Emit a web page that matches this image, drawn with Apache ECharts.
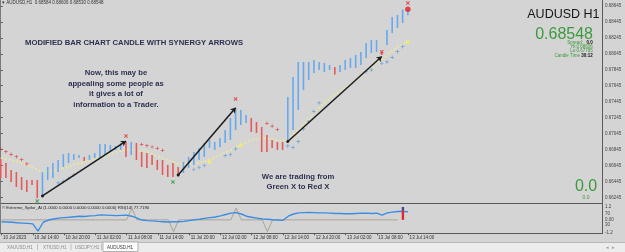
<!DOCTYPE html>
<html><head><meta charset="utf-8">
<script src="https://cdn.jsdelivr.net/npm/echarts@6/dist/echarts.min.js"></script>
<style>html,body{margin:0;padding:0;background:#d4d4d4;overflow:hidden}#c{width:625px;height:252px;}</style>
</head><body><div id="c"></div>
<script>
// ---------------- DATA ----------------
const symbolName = 'AUDUSD,H1';
const ohlc = ['0.68584', '0.68606', '0.68530', '0.68548'];
const lastPrice = 0.68548;
const timeIdx = [0, 6, 12, 18, 24, 30, 36, 42, 48, 54, 60, 66, 72, 78];
const timeLabels = ['10 Jul 2023', '10 Jul 14:00', '10 Jul 20:00', '11 Jul 02:00', '11 Jul 08:00', '11 Jul 14:00', '11 Jul 20:00', '12 Jul 02:00', '12 Jul 08:00', '12 Jul 14:00', '12 Jul 20:00', '13 Jul 02:00', '13 Jul 08:00', '13 Jul 14:00'];
const priceTicks = [0.66245, 0.66445, 0.66645, 0.66845, 0.67045, 0.67245, 0.67445, 0.67645, 0.67845, 0.68045, 0.68245, 0.68445, 0.68645];
const rsiTicks = [30, 70];
const spikeTicks = [-1.2, 0, 1.2];
const spikeTickLabels = ['-1.2', '0.00', '1.2'];

const barHigh = [0.66727,0.66676,0.66589,0.66563,0.66501,0.66463,0.66463,0.66463,0.66563,0.66626,
 0.66676,0.66714,0.66789,0.66802,0.66789,0.66777,0.66752,0.66777,0.66802,0.66915,
 0.66915,0.66902,0.66890,0.66927,0.66940,0.66940,0.66927,0.66814,0.66802,0.66777,
 0.66714,0.66714,0.66651,0.66676,0.66626,0.66689,0.66752,0.66814,0.66864,0.66927,
 0.66965,0.66940,0.66990,0.67090,0.67241,0.67366,0.67341,0.67278,0.67241,0.67190,
 0.67128,0.67027,0.66965,0.66940,0.66940,0.67504,0.67755,0.67943,0.67943,0.67943,
 0.67968,0.67943,0.67930,0.67905,0.67880,0.67905,0.67968,0.67993,0.68031,0.68068,
 0.68181,0.68219,0.68219,0.68068,0.68344,0.68507,0.68532,0.68600,0.68606];
const barLow = [0.66488,0.66488,0.66438,0.66375,0.66338,0.66313,0.66401,0.66238,0.66250,0.66463,
 0.66488,0.66563,0.66626,0.66676,0.66714,0.66739,0.66701,0.66714,0.66739,0.66739,
 0.66777,0.66814,0.66839,0.66839,0.66752,0.66777,0.66714,0.66626,0.66614,0.66651,
 0.66589,0.66526,0.66501,0.66501,0.66526,0.66551,0.66614,0.66651,0.66714,0.66752,
 0.66864,0.66839,0.66877,0.66927,0.66965,0.67090,0.67153,0.67178,0.67065,0.67053,
 0.66814,0.66814,0.66864,0.66839,0.66839,0.66940,0.67090,0.67341,0.67592,0.67717,
 0.67805,0.67843,0.67817,0.67843,0.67785,0.67817,0.67843,0.67868,0.67868,0.67905,
 0.67993,0.68056,0.68068,0.68031,0.68156,0.68306,0.68369,0.68432,0.68530];
// 1 = blue (bull trend), -1 = red (bear trend)
const barDir = [-1,-1,-1,-1,-1,-1,-1,-1, 1,1,1,1,1,1,1,1, -1, 1,1,1,1,1,1,1, -1, 1,
 -1,-1,-1,-1,-1,-1,-1,-1,-1, 1,1,1,1,1,1,1,1,1,1,1,1,1, -1,-1,-1,-1,-1,-1,-1,
 1,1,1,1,1,1,1,1,1, -1, 1,1,1,1,1,1,1,1, -1, 1,1,1,1,1];

const maIdx = [0,2,4,6,8,10,12,14,16,18,20,22,24,26,28,30,32,34,36,38,40,42,44,46,48,50,52,54,56,58,60,62,64,66,68,70,72,74,76,78];
const maVal = [0.66739,0.66714,0.66676,0.66626,0.66563,0.66576,0.66614,0.66651,0.66689,0.66727,0.66764,0.66814,0.66839,0.66839,0.66814,0.66764,0.66714,0.66664,0.66664,0.66676,0.66714,0.66777,0.66839,0.66902,0.66965,0.66990,0.66977,0.66952,0.67027,0.67153,0.67303,0.67429,0.67529,0.67617,0.67717,0.67817,0.67930,0.68031,0.68131,0.68194];

const redPlusIdx = [0,1,2,3,4,5, 27,28,29,30,31, 51,52,53];
const redPlusVal = [0.66852,0.66818,0.66785,0.66755,0.66718,0.66664, 0.66911,0.66893,0.66877,0.66861,0.66836, 0.67174,0.67140,0.67096];
const bluePlusIdx = [11,12,13,14, 37,38,39,43,44,45, 55,56,57,58,59,60,61, 70,71,73,74,75,76,77];
const bluePlusVal = [0.66426,0.66444,0.66485,0.66526, 0.66595,0.66620,0.66645,0.66768,0.66783,0.66854, 0.66890,0.66871,0.66943,0.67103,0.67194,0.67320,0.67429, 0.67821,0.67843,0.67927,0.67943,0.68002,0.68072,0.68135];
const redXIdx = [24, 45, 73, 78];
const redXVal = [0.67015, 0.67479, 0.68072, 0.68683];
const greenXIdx = [7, 33];
const greenXVal = [0.66200, 0.66438];
const redDotIdx = [78];
const redDotVal = [0.68604];
const yellowDotIdx = [40, 46, 78];
const yellowDotVal = [0.66689, 0.66898, 0.68194];
// arrows: [fromIdx, fromPrice, toIdx, toPrice]
const arrowFromIdx = [8, 34, 55];
const arrowFromVal = [0.66263, 0.66526, 0.66946];
const arrowToIdx = [24, 45, 73];
const arrowToVal = [0.66952, 0.67370, 0.68012];

const rsiVal = [42,41,40,38,37,36,34,8,40,48,
 52,55,57,58,60,62,61,63,64,67,
 66,65,64,65,66,62,55,48,46,45,
 43,42,41,42,42,43,46,49,51,54,
 57,59,63,68,73,75,70,62,58,55,
 52,51,49,48,47,62,70,74,75,76,
 75,74,74,73,72,72,71,71,72,73,
 73,72,73,66,74,77,79,80,77.72];
const spikeVal = [0,0,0,0,0,0,0,0,0,0, 0,0,0,0,0,0,0,0,0,0, 0,0,0,0,0,1.1,0,0,0,0,
 0,0,0,-1.1,0,0,0,0,0,0, 0,0,0,0,0,1.1,0,0,0,0, 0,-1.1,0,0,0,0,0,0,0,0,
 0,0,0,0,0,0,0,0,0,0, 0,0,0,0,0,0,0];
const spikeBarIdx = [77];
const spikeBarVal = [1.2];

// ---------------- LAYOUT ----------------
const F = '"Liberation Sans", Arial, sans-serif';
const BLUE = '#66a9ee', RED = '#e45a58';
const X_MIN = -0.134, X_MAX = 115.19;
const P_MIN = 0.661685, P_MAX = 0.687202;
const plusPath = 'path://M2,0H3V2H5V3H3V5H2V3H0V2H2Z';
const xPath = 'path://M0,1L1,0L2.5,1.5L4,0L5,1L3.5,2.5L5,4L4,5L2.5,3.5L1,5L0,4L1.5,2.5Z';
const pairs = (a, b) => a.map((v, k) => [v, b[k]]);

const chart = echarts.init(document.getElementById('c'), null, {renderer: 'canvas'});
const option = {
  animation: false,
  backgroundColor: '#d4d4d4',
  textStyle: {fontFamily: F},
  grid: [
    {left: 0, right: 23, top: 0, height: 203.5},
    {left: 0, right: 23, top: 205.75, height: 27.5}
  ],
  xAxis: [
    {type: 'value', gridIndex: 0, min: X_MIN, max: X_MAX, show: false},
    {type: 'value', gridIndex: 1, min: X_MIN, max: X_MAX,
     axisLine: {show: false}, splitLine: {show: false},
     axisTick: {show: true, customValues: timeIdx, length: 2, lineStyle: {color: '#555'}},
     axisLabel: {customValues: timeIdx, formatter: v => timeLabels[timeIdx.indexOf(v)] || '',
       fontSize: 4.5, color: '#333', fontFamily: F, align: 'left', margin: 2.5, padding: [0, 0, 0, 1.5]}}
  ],
  yAxis: [
    {type: 'value', gridIndex: 0, position: 'right', min: P_MIN, max: P_MAX, scale: true,
     splitLine: {show: false}, axisLine: {show: false},
     axisTick: {show: true, customValues: priceTicks, length: 2, lineStyle: {color: '#555'}},
     axisLabel: {customValues: priceTicks, formatter: v => v.toFixed(5), fontSize: 4.5, color: '#444', margin: 3, fontFamily: F}},
    {type: 'value', gridIndex: 1, position: 'right', min: 0, max: 100,
     splitLine: {show: false}, axisLine: {show: false}, axisTick: {show: false},
     axisLabel: {customValues: rsiTicks, formatter: v => String(v), fontSize: 4.5, color: '#444', margin: 3, fontFamily: F}},
    {type: 'value', gridIndex: 1, position: 'right', min: -1.2512, max: 1.3165,
     splitLine: {show: false}, axisLine: {show: false}, axisTick: {show: false},
     axisLabel: {customValues: spikeTicks, formatter: v => spikeTickLabels[spikeTicks.indexOf(v)] || '', fontSize: 4.5, color: '#444', margin: 3, fontFamily: F}}
  ],
  series: [
    {type: 'line', xAxisIndex: 0, yAxisIndex: 0, data: pairs(maIdx, maVal), showSymbol: false, z: 1,
     lineStyle: {color: '#ede79e', width: 2, type: 'dotted', opacity: 0.85},
     markLine: {silent: true, symbol: 'none', data: [{yAxis: lastPrice}],
       lineStyle: {color: '#6a6a6a', width: 1, type: 'solid'},
       label: {position: 'end', formatter: () => lastPrice.toFixed(5), backgroundColor: '#111', color: '#fff',
         fontSize: 4.5, padding: [1, 1.5], distance: 1, fontFamily: F}}},
    {type: 'custom', xAxisIndex: 0, yAxisIndex: 0, z: 3,
     data: barHigh.map((h, i) => [i, h, barLow[i], barDir[i]]),
     encode: {x: 0, y: [1, 2]},
     renderItem: (params, api) => {
       const i = api.value(0);
       const hi = api.coord([i, api.value(1)]);
       const lo = api.coord([i, api.value(2)]);
       return {type: 'rect', shape: {x: hi[0] - 0.8, y: hi[1], width: 1.6, height: Math.max(1, lo[1] - hi[1])},
         style: {fill: api.value(3) > 0 ? BLUE : RED}};
     }},
    {type: 'scatter', xAxisIndex: 0, yAxisIndex: 0, z: 4, data: pairs(redPlusIdx, redPlusVal), symbol: plusPath, symbolSize: 3.6, itemStyle: {color: '#e03434'}},
    {type: 'scatter', xAxisIndex: 0, yAxisIndex: 0, z: 4, data: pairs(bluePlusIdx, bluePlusVal), symbol: plusPath, symbolSize: 3.6, itemStyle: {color: '#4b92de'}},
    {type: 'scatter', xAxisIndex: 0, yAxisIndex: 0, z: 5, data: pairs(redXIdx, redXVal), symbol: xPath, symbolSize: 4, itemStyle: {color: '#e03434'}},
    {type: 'scatter', xAxisIndex: 0, yAxisIndex: 0, z: 5, data: pairs(greenXIdx, greenXVal), symbol: xPath, symbolSize: 4, itemStyle: {color: '#2c9a48'}},
    {type: 'scatter', xAxisIndex: 0, yAxisIndex: 0, z: 5, data: pairs(redDotIdx, redDotVal), symbol: 'circle', symbolSize: 5.5, itemStyle: {color: '#e81e22'}},
    {type: 'scatter', xAxisIndex: 0, yAxisIndex: 0, z: 4, data: pairs(yellowDotIdx, yellowDotVal), symbol: 'circle', symbolSize: 4, itemStyle: {color: '#f3ee6c'}},
    {type: 'lines', coordinateSystem: 'cartesian2d', xAxisIndex: 0, yAxisIndex: 0, z: 6,
     symbol: ['circle', 'arrow'], symbolSize: [3, 5],
     lineStyle: {color: '#1c1c1c', width: 1.5, opacity: 1},
     data: arrowFromIdx.map((f, k) => ({coords: [[f, arrowFromVal[k]], [arrowToIdx[k], arrowToVal[k]]]}))},
    {type: 'line', xAxisIndex: 1, yAxisIndex: 2, data: spikeVal.map((v, i) => [i, v]), showSymbol: false, z: 2,
     lineStyle: {color: '#aaa398', width: 1}},
    {type: 'line', xAxisIndex: 1, yAxisIndex: 1, data: rsiVal.map((v, i) => [i, v]), showSymbol: false, z: 3,
     lineStyle: {color: '#3b8de2', width: 1.4}},
    {type: 'custom', xAxisIndex: 1, yAxisIndex: 2, z: 4, data: pairs(spikeBarIdx, spikeBarVal),
     renderItem: (params, api) => {
       const i = api.value(0);
       const top = api.coord([i, api.value(1)]);
       const base = api.coord([i, 0]);
       const mid = api.coord([i, api.value(1) * 0.75]);
       return {type: 'group', children: [
         {type: 'rect', shape: {x: top[0] - 1.2, y: mid[1], width: 2.4, height: base[1] - mid[1]}, style: {fill: '#e3262b'}},
         {type: 'rect', shape: {x: top[0] - 1.2, y: top[1], width: 2.4, height: mid[1] - top[1]}, style: {fill: '#3a4a8a'}}
       ]};
     }}
  ],
  graphic: [
    {type: 'line', shape: {x1: 0, y1: 203.5, x2: 602.5, y2: 203.5}, style: {stroke: '#5a5a5a', lineWidth: 1}, silent: true},
    {type: 'line', shape: {x1: 0, y1: 233.5, x2: 602.5, y2: 233.5}, style: {stroke: '#5a5a5a', lineWidth: 1}, silent: true},
    {type: 'line', shape: {x1: 602.5, y1: 0, x2: 602.5, y2: 234}, style: {stroke: '#5a5a5a', lineWidth: 1}, silent: true},
    {type: 'line', shape: {x1: 0.5, y1: 0, x2: 0.5, y2: 234}, style: {stroke: '#7a7a7a', lineWidth: 1}, silent: true},
    {type: 'text', x: 2, y: 3, style: {text: '▾ ' + symbolName + '  ' + ohlc.join(' '), fontSize: 4.5, fill: '#333', fontFamily: F, verticalAlign: 'middle'}},
    {type: 'text', x: 25, y: 42.5, style: {text: 'MODIFIED BAR CHART CANDLE WITH SYNERGY ARROWS', fontSize: 7.7, fontWeight: 'bold', fill: '#2d3150', fontFamily: F, verticalAlign: 'middle'}},
    {type: 'text', x: 116, y: 68, style: {text: 'Now, this may be\nappealing some people as\nit gives a lot of\ninformation to a Trader.', fontSize: 7.7, lineHeight: 10.5, fontWeight: 'bold', fill: '#2d3150', fontFamily: F, align: 'center', verticalAlign: 'top'}},
    {type: 'text', x: 298, y: 171.5, style: {text: 'We are trading from\nGreen X to Red X', fontSize: 7.7, lineHeight: 10, fontWeight: 'bold', fill: '#2d3150', fontFamily: F, align: 'center', verticalAlign: 'top'}},
    {type: 'text', x: 592.7, y: 42.7, style: {text: '{g|Spread:} {k|0.0}', align: 'right', verticalAlign: 'middle', fontFamily: F,
      rich: {g: {fontSize: 4.5, fill: '#3a9a3a', fontFamily: F}, k: {fontSize: 4.5, fill: '#111', fontWeight: 'bold', fontFamily: F}}}},
    {type: 'text', x: 592.7, y: 46.9, style: {text: 'Hi:0.68606', fontSize: 4.5, fill: '#3a9a3a', align: 'right', verticalAlign: 'middle', fontFamily: F}},
    {type: 'text', x: 592.7, y: 51.2, style: {text: 'Lo:0.67785', fontSize: 4.5, fill: '#3a9a3a', align: 'right', verticalAlign: 'middle', fontFamily: F}},
    {type: 'text', x: 592.7, y: 55.8, style: {text: '{g|Candle Time }{k|30:12}', align: 'right', verticalAlign: 'middle', fontFamily: F,
      rich: {g: {fontSize: 4.5, fill: '#3a9a3a', fontFamily: F}, k: {fontSize: 4.5, fill: '#111', fontWeight: 'bold', fontFamily: F}}}},
    {type: 'text', x: 599.5, y: 14.5, style: {text: 'AUDUSD H1', fontSize: 12.5, fill: '#151515', align: 'right', verticalAlign: 'middle', fontFamily: F}},
    {type: 'text', x: 593, y: 35, style: {text: lastPrice.toFixed(5), fontSize: 16, fill: '#3c9a3c', align: 'right', verticalAlign: 'middle', fontFamily: F}},
    {type: 'text', x: 586, y: 187, style: {text: '0.0', fontSize: 16, fill: '#3c9a3c', align: 'center', verticalAlign: 'middle', fontFamily: F}},
    {type: 'text', x: 586, y: 198, style: {text: '0.0', fontSize: 5, fill: '#3c9a3c', align: 'center', verticalAlign: 'middle', fontFamily: F}},
    {type: 'text', x: 2, y: 207.5, style: {text: '© Extreme_Spike_AI (1.0000 0.0000 0.0000 0.0000 0.0000) RSI(14) 77.7190', fontSize: 4.3, fill: '#222', verticalAlign: 'middle', fontFamily: F}},
    {type: 'rect', shape: {x: 0, y: 242, width: 625, height: 10}, style: {fill: '#ececec'}, silent: true},
    {type: 'line', shape: {x1: 0, y1: 242.5, x2: 625, y2: 242.5}, style: {stroke: '#b8b8b8', lineWidth: 1}, silent: true},
    {type: 'line', shape: {x1: 37.5, y1: 244, x2: 37.5, y2: 250}, style: {stroke: '#c0c0c0', lineWidth: 1}},
    {type: 'line', shape: {x1: 71, y1: 244, x2: 71, y2: 250}, style: {stroke: '#c0c0c0', lineWidth: 1}},
    {type: 'line', shape: {x1: 101.5, y1: 244, x2: 101.5, y2: 250}, style: {stroke: '#c0c0c0', lineWidth: 1}},
    {type: 'rect', shape: {x: 103, y: 242, width: 35, height: 9.5}, style: {fill: '#ffffff', stroke: '#a0a0a0', lineWidth: 0.8}},
    {type: 'text', x: 7, y: 247.5, style: {text: 'XAUUSD,H1', fontSize: 4.5, fill: '#8a8a8a', verticalAlign: 'middle', fontFamily: F}},
    {type: 'text', x: 43, y: 247.5, style: {text: 'XTIUSD,H1', fontSize: 4.5, fill: '#8a8a8a', verticalAlign: 'middle', fontFamily: F}},
    {type: 'text', x: 75, y: 247.5, style: {text: 'USDJPY,H1', fontSize: 4.5, fill: '#8a8a8a', verticalAlign: 'middle', fontFamily: F}},
    {type: 'text', x: 107, y: 247.5, style: {text: 'AUDUSD,H1', fontSize: 4.5, fill: '#333', verticalAlign: 'middle', fontFamily: F}},
    {type: 'text', x: 606, y: 247.5, style: {text: '◂  ▸', fontSize: 4.5, fill: '#999', verticalAlign: 'middle', fontFamily: F}}
  ]
};
chart.setOption(option);
</script>
</body></html>
